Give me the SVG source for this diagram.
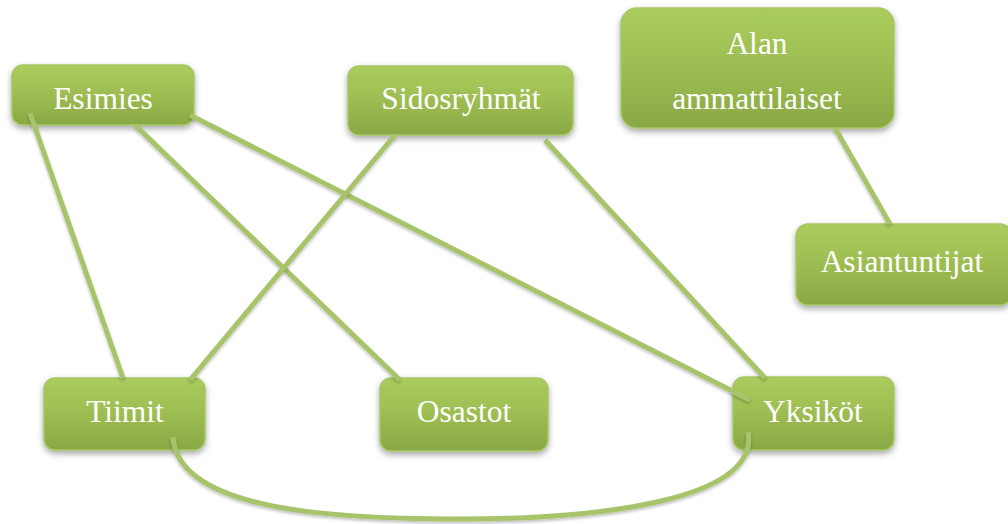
<svg xmlns="http://www.w3.org/2000/svg" width="1008" height="524" viewBox="0 0 1008 524">
<style>
.box{fill:url(#g);stroke:#A6C664;stroke-width:1.5;filter:url(#sh)}
.lbl{font-family:"Liberation Serif","Times New Roman",serif;font-size:31.5px;fill:#fff;text-anchor:middle}
.c{fill:none;stroke:#A7C46A;stroke-width:5;stroke-linecap:butt;filter:url(#sh2)}
</style>
<defs>
<linearGradient id="g" x1="0" y1="0" x2="0" y2="1">
<stop offset="0" stop-color="#ABCC5D"/>
<stop offset="0.5" stop-color="#9DBD52"/>
<stop offset="1" stop-color="#89A845"/>
</linearGradient>
<filter id="sh" x="-20%" y="-20%" width="140%" height="150%">
<feDropShadow dx="0" dy="3" stdDeviation="3" flood-color="#000" flood-opacity="0.35"/>
</filter>
<filter id="sh2" x="-20%" y="-20%" width="140%" height="150%">
<feDropShadow dx="0" dy="2" stdDeviation="1.5" flood-color="#000" flood-opacity="0.25"/>
</filter>
</defs>
<g id="n-esimies"><rect class="box" x="12" y="65" width="182" height="60" rx="11"/><text class="lbl" x="103" y="109">Esimies</text></g>
<g id="n-sidosryhmat"><rect class="box" x="348" y="66" width="225" height="69" rx="11"/><text class="lbl" x="461" y="109">Sidosryhmät</text></g>
<g id="n-alan"><rect class="box" x="621" y="8" width="273" height="120" rx="16"/><text class="lbl" x="757" y="54">Alan</text><text class="lbl" x="757" y="109">ammattilaiset</text></g>
<g id="n-asiantuntijat"><rect class="box" x="796" y="224" width="216" height="81" rx="12"/><text class="lbl" x="902" y="272">Asiantuntijat</text></g>
<g id="n-tiimit"><rect class="box" x="44" y="378" width="161" height="72" rx="11"/><text class="lbl" x="125" y="422">Tiimit</text></g>
<g id="n-osastot"><rect class="box" x="380" y="378" width="168" height="73" rx="11"/><text class="lbl" x="464" y="422">Osastot</text></g>
<g id="n-yksikot"><rect class="box" x="733" y="377" width="161" height="73" rx="11"/><text class="lbl" x="813" y="422">Yksiköt</text></g>
<g id="connectors">
<line class="c" x1="30" y1="113" x2="123" y2="378"/>
<line class="c" x1="135" y1="125" x2="400" y2="380"/>
<line class="c" x1="190" y1="115" x2="750" y2="400"/>
<line class="c" x1="395" y1="135" x2="190" y2="380"/>
<line class="c" x1="545" y1="140" x2="765" y2="378"/>
<line class="c" x1="835" y1="128" x2="890" y2="224"/>
<path class="c" d="M173,437 C178,510 330,519 460,519 C600,519 760,500 748,432"/>
</g>
</svg>
